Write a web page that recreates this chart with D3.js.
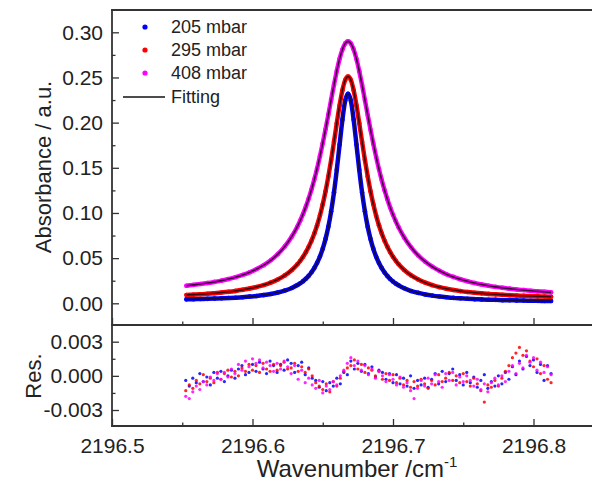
<!DOCTYPE html>
<html>
<head>
<meta charset="utf-8">
<script src="https://cdn.jsdelivr.net/npm/d3@7"></script>
<style>
    body { margin: 0; background: #fff; }
    svg { font-family: "Liberation Sans", Arial, sans-serif; }
</style>
</head>
<body>
<script>
// wavenumbers (cm-1) of the absorbance points
let wnAbs = [
    2196.553, 2196.558, 2196.563, 2196.568, 2196.573, 2196.578, 2196.583, 2196.588, 2196.593, 2196.598,
    2196.603, 2196.608, 2196.613, 2196.618, 2196.623, 2196.628,
    2196.632, 2196.634, 2196.636, 2196.638, 2196.640, 2196.642, 2196.644, 2196.646, 2196.648, 2196.650,
    2196.652, 2196.654, 2196.656, 2196.658, 2196.660, 2196.662, 2196.664, 2196.666, 2196.668, 2196.670,
    2196.672, 2196.674, 2196.676, 2196.678, 2196.680, 2196.682, 2196.684, 2196.686, 2196.688, 2196.690,
    2196.692, 2196.694, 2196.696, 2196.698, 2196.700, 2196.702, 2196.704,
    2196.708, 2196.713, 2196.718, 2196.723, 2196.728, 2196.733, 2196.738, 2196.743, 2196.748, 2196.753,
    2196.758, 2196.763, 2196.768, 2196.773, 2196.778, 2196.783, 2196.788, 2196.793, 2196.798, 2196.803,
    2196.808, 2196.8125
];

let abs205 = [
    0.0044, 0.0046, 0.0047, 0.0049, 0.0052, 0.0055, 0.0058, 0.0062, 0.0067, 0.0074,
    0.0081, 0.0091, 0.0103, 0.0119, 0.0141, 0.0170,
    0.0202, 0.0222, 0.0245, 0.0272, 0.0305, 0.0344, 0.0391, 0.0448, 0.0518, 0.0605,
    0.0713, 0.0849, 0.1019, 0.1228, 0.1478, 0.1757, 0.2033, 0.2244, 0.2320, 0.2244,
    0.2032, 0.1756, 0.1477, 0.1227, 0.1018, 0.0848, 0.0712, 0.0603, 0.0516, 0.0446,
    0.0389, 0.0341, 0.0302, 0.0269, 0.0242, 0.0218, 0.0199,
    0.0166, 0.0136, 0.0115, 0.0098, 0.0085, 0.0075, 0.0067, 0.0060, 0.0055, 0.0050,
    0.0046, 0.0043, 0.0040, 0.0038, 0.0035, 0.0033, 0.0032, 0.0030, 0.0029, 0.0027,
    0.0026, 0.0025
];

let abs295 = [
    0.0092, 0.0096, 0.0100, 0.0106, 0.0112, 0.0119, 0.0127, 0.0137, 0.0149, 0.0163,
    0.0181, 0.0202, 0.0229, 0.0264, 0.0309, 0.0369,
    0.0432, 0.0471, 0.0515, 0.0566, 0.0625, 0.0693, 0.0772, 0.0864, 0.0972, 0.1096,
    0.1240, 0.1404, 0.1588, 0.1787, 0.1994, 0.2191, 0.2359, 0.2472, 0.2510, 0.2472,
    0.2358, 0.2191, 0.1993, 0.1787, 0.1588, 0.1404, 0.1240, 0.1096, 0.0971, 0.0864,
    0.0772, 0.0693, 0.0625, 0.0566, 0.0515, 0.0471, 0.0432,
    0.0369, 0.0308, 0.0263, 0.0228, 0.0201, 0.0179, 0.0161, 0.0147, 0.0135, 0.0125,
    0.0117, 0.0110, 0.0104, 0.0099, 0.0094, 0.0090, 0.0086, 0.0083, 0.0080, 0.0077,
    0.0075, 0.0072
];

let abs408 = [
    0.0195, 0.0204, 0.0213, 0.0224, 0.0237, 0.0251, 0.0269, 0.0289, 0.0314, 0.0343,
    0.0379, 0.0422, 0.0476, 0.0544, 0.0630, 0.0740,
    0.0851, 0.0917, 0.0989, 0.1070, 0.1160, 0.1260, 0.1371, 0.1493, 0.1627, 0.1772,
    0.1926, 0.2089, 0.2255, 0.2419, 0.2572, 0.2706, 0.2810, 0.2877, 0.2900, 0.2877,
    0.2809, 0.2704, 0.2569, 0.2416, 0.2251, 0.2085, 0.1922, 0.1766, 0.1621, 0.1486,
    0.1364, 0.1252, 0.1152, 0.1061, 0.0980, 0.0907, 0.0841,
    0.0728, 0.0617, 0.0529, 0.0460, 0.0405, 0.0360, 0.0322, 0.0292, 0.0266, 0.0244,
    0.0225, 0.0209, 0.0195, 0.0182, 0.0171, 0.0162, 0.0153, 0.0146, 0.0139, 0.0132,
    0.0127, 0.0121
];

// wavenumbers of the residual points
let wnRes = [
    2196.5525, 2196.555, 2196.5575, 2196.56, 2196.5625, 2196.565, 2196.5675, 2196.57, 2196.5725, 2196.575,
    2196.5775, 2196.58, 2196.5825, 2196.585, 2196.5875, 2196.59, 2196.5925, 2196.595, 2196.5975, 2196.6,
    2196.6025, 2196.605, 2196.6075, 2196.61, 2196.6125, 2196.615, 2196.6175, 2196.62, 2196.6225, 2196.625,
    2196.6275, 2196.63, 2196.6325, 2196.635, 2196.6375, 2196.64, 2196.6425, 2196.645, 2196.6475, 2196.65,
    2196.6525, 2196.655, 2196.6575, 2196.66, 2196.6625, 2196.665, 2196.6675, 2196.67, 2196.6725, 2196.675,
    2196.6775, 2196.68, 2196.6825, 2196.685, 2196.6875, 2196.69, 2196.6925, 2196.695, 2196.6975, 2196.7,
    2196.7025, 2196.705, 2196.7075, 2196.71, 2196.7125, 2196.715, 2196.7175, 2196.72, 2196.7225, 2196.725,
    2196.7275, 2196.73, 2196.7325, 2196.735, 2196.7375, 2196.74, 2196.7425, 2196.745, 2196.7475, 2196.75,
    2196.7525, 2196.755, 2196.7575, 2196.76, 2196.7625, 2196.765, 2196.7675, 2196.77, 2196.7725, 2196.775,
    2196.7775, 2196.78, 2196.7825, 2196.785, 2196.7875, 2196.79, 2196.7925, 2196.795, 2196.7975, 2196.8,
    2196.8025, 2196.805, 2196.8075, 2196.81, 2196.8125
];

let res205 = [
    -0.0004, -0.0009, -0.0002, -0.0006, 0.0002, -0.0005, -0.0001, -0.0008, 0.0003, -0.0002,
    0.0004, -0.0005, 0.0000, 0.0005, -0.0002, 0.0006, 0.0009, 0.0001, 0.0003, 0.0010,
    0.0004, 0.0012, 0.0006, 0.0002, 0.0013, 0.0009, 0.0003, 0.0010, 0.0005, 0.0014,
    0.0011, 0.0003, 0.0009, 0.0012, 0.0001, 0.0007, -0.0002, -0.0004, -0.0010, -0.0005,
    -0.0013, -0.0006, -0.0009, -0.0002, -0.0007, 0.0003, 0.0001, 0.0013, 0.0006, 0.0011,
    0.0004, 0.0010, 0.0002, 0.0008, -0.0001, 0.0005, 0.0003, -0.0003, 0.0002, -0.0006,
    0.0001, -0.0007, -0.0002, -0.0009, 0.0000, -0.0011, -0.0004, -0.0008, -0.0002, -0.0010,
    -0.0003, 0.0002, -0.0007, 0.0004, -0.0005, 0.0002, 0.0006, -0.0004, 0.0001, -0.0008,
    0.0003, -0.0006, -0.0001, -0.0010, -0.0004, 0.0001, -0.0011, -0.0005, -0.0009, 0.0000,
    -0.0007, 0.0003, -0.0003, 0.0008, 0.0001, 0.0013, 0.0006, 0.0017, 0.0009, 0.0014,
    0.0003, 0.0010, -0.0004, 0.0009, 0.0002
];

let res295 = [
    -0.0013, -0.0008, -0.0011, -0.0004, -0.0007, 0.0001, -0.0005, -0.0002, -0.0006, 0.0003,
    -0.0003, 0.0002, 0.0005, -0.0001, 0.0004, 0.0000, 0.0007, 0.0004, 0.0010, 0.0005,
    0.0009, 0.0003, 0.0011, 0.0006, 0.0004, 0.0010, 0.0005, 0.0009, 0.0012, 0.0006,
    0.0007, 0.0011, 0.0004, 0.0008, 0.0003, 0.0006, 0.0000, -0.0006, -0.0009, -0.0012,
    -0.0007, -0.0014, -0.0005, -0.0009, -0.0002, 0.0004, 0.0007, 0.0009, 0.0014, 0.0006,
    0.0010, 0.0003, 0.0007, 0.0005, 0.0000, 0.0004, -0.0003, 0.0002, -0.0004, 0.0001,
    -0.0006, -0.0002, -0.0008, -0.0004, -0.0010, -0.0005, -0.0009, -0.0003, -0.0007, -0.0011,
    -0.0004, -0.0008, 0.0001, -0.0005, -0.0002, 0.0003, -0.0004, 0.0000, -0.0006, 0.0002,
    -0.0005, -0.0009, -0.0002, -0.0007, -0.0013, -0.0023, -0.0008, -0.0010, -0.0004, -0.0009,
    -0.0002, 0.0004, 0.0009, 0.0016, 0.0020, 0.0025, 0.0018, 0.0022, 0.0013, 0.0008,
    0.0015, 0.0002, 0.0009, -0.0003, -0.0006
];

let res408 = [
    -0.0018, -0.0020, -0.0014, -0.0009, -0.0012, -0.0005, -0.0008, -0.0001, -0.0004, 0.0002,
    -0.0003, 0.0003, -0.0001, 0.0006, 0.0002, 0.0010, 0.0005, 0.0013, 0.0008, 0.0015,
    0.0011, 0.0014, 0.0007, 0.0012, 0.0009, 0.0004, 0.0011, 0.0006, 0.0013, 0.0008,
    0.0002, 0.0009, -0.0003, 0.0005, -0.0006, -0.0002, -0.0008, -0.0011, -0.0004, -0.0015,
    -0.0009, -0.0012, -0.0005, -0.0008, 0.0000, 0.0005, 0.0011, 0.0016, 0.0009, 0.0013,
    0.0005, 0.0009, 0.0001, 0.0006, -0.0002, 0.0004, 0.0000, -0.0005, 0.0001, -0.0003,
    -0.0008, -0.0001, -0.0010, -0.0006, -0.0013, -0.0020, -0.0011, -0.0004, -0.0009, -0.0002,
    -0.0007, 0.0001, -0.0005, -0.0010, 0.0002, -0.0004, 0.0003, -0.0008, -0.0001, -0.0005,
    0.0000, -0.0004, -0.0009, -0.0003, -0.0012, -0.0007, -0.0014, -0.0006, -0.0002, -0.0008,
    0.0000, -0.0005, 0.0004, 0.0009, 0.0002, 0.0011, 0.0007, 0.0018, 0.0012, 0.0016,
    0.0005, 0.0012, 0.0003, 0.0008, 0.0001
];

let seriesNames = ["205 mbar", "295 mbar", "408 mbar"];
let seriesColors = ["#0000ff", "#ff0000", "#ff00ff"];

let absTicks = [0, 0.05, 0.10, 0.15, 0.20, 0.25, 0.30];
let absMinor = [0.025, 0.075, 0.125, 0.175, 0.225, 0.275];
let resTicks = [-0.003, 0, 0.003];
let resMinor = [-0.0015, 0.0015];
let wnTicks = [2196.5, 2196.6, 2196.7, 2196.8];
let wnMinor = [2196.55, 2196.65, 2196.75];

let w = 592;
let h = 488;
let pLeft = 112, pRight = 604, pTop = 10, pMid = 325, pBottom = 426;

let x = d3.scaleLinear().domain([2196.5, 2196.8]).range([112, 533.5]);
let yAbs = d3.scaleLinear().domain([0, 0.30]).range([303.3, 32.3]);
let yRes = d3.scaleLinear().domain([-0.003, 0.003]).range([410, 341.7]);

let svg = d3.select("body")
    .append("svg")
    .attr("width", w)
    .attr("height", h);

let absSeries = [abs205, abs295, abs408];
let resSeries = [res205, res295, res408];

//data bands + markers
let band = d3.line()
    .x(function (d, i) { return x(wnAbs[i]); })
    .y(function (d) { return yAbs(d); })
    .curve(d3.curveMonotoneX);

for (let k = 0; k < 3; k++) {
    svg.append("path")
        .attr("d", band(absSeries[k]))
        .attr("fill", "none")
        .attr("stroke", seriesColors[k])
        .attr("stroke-width", 4.5)
        .attr("stroke-linecap", "round");

    svg.append("g")
        .selectAll("circle")
        .data(absSeries[k])
        .enter()
        .append("circle")
        .attr("cx", function (d, i) { return x(wnAbs[i]); })
        .attr("cy", function (d) { return yAbs(d); })
        .attr("r", 2.3)
        .attr("fill", seriesColors[k]);
}

//fitting lines
for (let k = 0; k < 3; k++) {
    svg.append("path")
        .attr("d", band(absSeries[k]))
        .attr("fill", "none")
        .attr("stroke", "#1a0a14")
        .attr("stroke-opacity", 0.85)
        .attr("stroke-width", 1.6);
}

//residuals
for (let k = 0; k < 3; k++) {
    svg.append("g")
        .selectAll("circle")
        .data(resSeries[k])
        .enter()
        .append("circle")
        .attr("cx", function (d, i) { return x(wnRes[i]); })
        .attr("cy", function (d) { return yRes(d); })
        .attr("r", 1.6)
        .attr("fill", seriesColors[k])
        .attr("fill-opacity", 0.85);
}

//axes
function styleAxis(g) {
    g.select(".domain").remove();
    g.selectAll(".tick line").attr("stroke", "#333").attr("stroke-width", 1.3);
    g.selectAll(".tick text").attr("fill", "#222").attr("font-size", "21px")
        .attr("font-family", "'Liberation Sans', Arial, sans-serif");
}

svg.append("g")
    .attr("transform", "translate(" + pLeft + ",0)")
    .call(d3.axisLeft(yAbs).tickValues(absTicks).tickSize(-7).tickPadding(9)
        .tickFormat(function (d) { return d.toFixed(2); }))
    .call(styleAxis);

svg.append("g")
    .attr("transform", "translate(" + pLeft + ",0)")
    .call(d3.axisLeft(yAbs).tickValues(absMinor).tickSize(-3.5).tickFormat(""))
    .call(styleAxis);

svg.append("g")
    .attr("transform", "translate(" + pLeft + ",0)")
    .call(d3.axisLeft(yRes).tickValues(resTicks).tickSize(-7).tickPadding(9)
        .tickFormat(function (d) { return d.toFixed(3); }))
    .call(styleAxis);

svg.append("g")
    .attr("transform", "translate(" + pLeft + ",0)")
    .call(d3.axisLeft(yRes).tickValues(resMinor).tickSize(-3.5).tickFormat(""))
    .call(styleAxis);

svg.append("g")
    .attr("transform", "translate(0," + pMid + ")")
    .call(d3.axisBottom(x).tickValues(wnTicks).tickSize(-7).tickFormat(""))
    .call(styleAxis);

svg.append("g")
    .attr("transform", "translate(0," + pMid + ")")
    .call(d3.axisBottom(x).tickValues(wnMinor).tickSize(-3.5).tickFormat(""))
    .call(styleAxis);

svg.append("g")
    .attr("transform", "translate(0," + pBottom + ")")
    .call(d3.axisBottom(x).tickValues(wnTicks).tickSize(-7).tickPadding(12)
        .tickFormat(function (d) { return d.toFixed(1); }))
    .call(styleAxis);

svg.append("g")
    .attr("transform", "translate(0," + pBottom + ")")
    .call(d3.axisBottom(x).tickValues(wnMinor).tickSize(-3.5).tickFormat(""))
    .call(styleAxis);

//frame
let frame = [[pLeft, pTop, pRight, pTop], [pLeft, pMid, pRight, pMid], [pLeft, pBottom, pRight, pBottom], [pLeft, pTop, pLeft, pBottom]];
for (let f of frame) {
    svg.append("line")
        .attr("x1", f[0]).attr("y1", f[1])
        .attr("x2", f[2]).attr("y2", f[3])
        .attr("stroke", "#333")
        .attr("stroke-width", 1.8)
        .attr("stroke-linecap", "square");
}

//axis titles
svg.append("text")
    .attr("transform", "translate(43,167) rotate(-90)")
    .attr("text-anchor", "middle")
    .attr("dy", "0.35em")
    .attr("font-size", "22px")
    .attr("fill", "#222")
    .text("Absorbance / a.u.");

svg.append("text")
    .attr("transform", "translate(33,376) rotate(-90)")
    .attr("text-anchor", "middle")
    .attr("dy", "0.35em")
    .attr("font-size", "22px")
    .attr("fill", "#222")
    .text("Res.");

let xt = svg.append("text")
    .attr("x", 357)
    .attr("y", 477)
    .attr("text-anchor", "middle")
    .attr("font-size", "24px")
    .attr("fill", "#222");
xt.append("tspan").text("Wavenumber /cm");
xt.append("tspan").attr("dy", -10).attr("font-size", "15px").text("-1");

//legend
let legY = [27, 50, 73];
for (let k = 0; k < 3; k++) {
    svg.append("circle")
        .attr("cx", 145)
        .attr("cy", legY[k])
        .attr("r", 2.6)
        .attr("fill", seriesColors[k]);
    svg.append("text")
        .attr("x", 171)
        .attr("y", legY[k])
        .attr("dy", "0.35em")
        .attr("font-size", "18px")
        .attr("fill", "#222")
        .text(seriesNames[k]);
}
svg.append("line")
    .attr("x1", 123).attr("x2", 165)
    .attr("y1", 97).attr("y2", 97)
    .attr("stroke", "#111")
    .attr("stroke-width", 1.6);
svg.append("text")
    .attr("x", 171)
    .attr("y", 97)
    .attr("dy", "0.35em")
    .attr("font-size", "18px")
    .attr("fill", "#222")
    .text("Fitting");
</script>
</body>
</html>
